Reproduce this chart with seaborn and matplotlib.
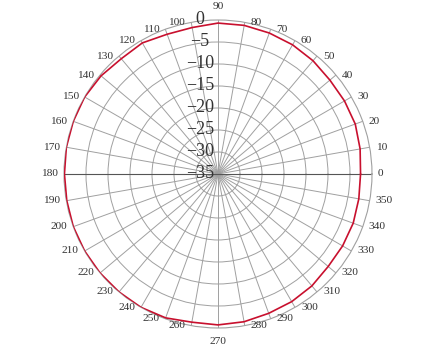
import numpy as np
import pandas as pd
import matplotlib
matplotlib.use("Agg")
import matplotlib.pyplot as plt
import matplotlib.transforms as mtransforms
import seaborn as sns

angles_deg = [0, 10, 20, 30, 40, 50, 60, 70, 80, 90, 100, 110, 120, 130, 140, 150, 160, 170,
              180, 190, 200, 210, 220, 230, 240, 250, 260, 270, 280, 290, 300, 310, 320, 330, 340, 350, 360]
gain_db = [-2.6, -2.2, -1.8, -1.8, -1.8, -1.4, -1.1, -0.9, -0.7, -0.7, -1.2, -1.2, -0.6, -0.8, -0.3, 0.0, 0.0, 0.0,
           -0.1, -0.1, 0.0, 0.0, 0.0, 0.0, 0.0, -0.2, -0.8, -0.7, -0.9, -1.3, -1.5, -1.8, -2.3, -2.3, -2.3, -2.5, -2.6]
r_ticks = [-35, -30, -25, -20, -15, -10, -5, 0]
theta_ticks = list(range(0, 360, 10))
theta_labels = [str(a) for a in theta_ticks]

sns.set_style("white")
plt.rcParams['font.family'] = ['Liberation Serif', 'DejaVu Serif']

df = pd.DataFrame({"theta": np.deg2rad(angles_deg), "r": gain_db})

fig = plt.figure(figsize=(4.33, 3.52), dpi=100)
ax = fig.add_axes([0.1478, 0.0682, 0.7113, 0.875], projection='polar')

sns.lineplot(data=df, x="theta", y="r", sort=False, ax=ax, color="#c8102e", linewidth=1.2, zorder=5)

ax.set_ylim(-35, 0)
ax.set_thetagrids(theta_ticks, labels=[""] * len(theta_ticks))
ax.set_rgrids(r_ticks[1:-1], labels=[""] * (len(r_ticks) - 2))
ax.grid(True, color="#a0a0a0", linewidth=0.7)
ax.spines['polar'].set_color("#a0a0a0")
ax.spines['polar'].set_linewidth(0.8)
ax.tick_params(axis='x', which='major', direction='out', length=4, width=0.7, color="#a0a0a0")
ax.set_xlabel("")
ax.set_ylabel("")

# darker horizontal axis
ax.plot([0, np.pi], [0, 0], color="#555555", linewidth=0.8, zorder=2)

# angular labels
for a, lab in zip(theta_ticks, theta_labels):
    c, s = np.cos(np.deg2rad(a)), np.sin(np.deg2rad(a))
    if abs(c) < 0.05:
        ha = 'center'
        va = 'bottom' if s > 0 else 'top'
        dx, dy = 0, (6.5 if s > 0 else -6.5)
    else:
        ha = 'left' if c > 0 else 'right'
        va = 'center'
        dx, dy = (4.3 if c > 0 else -4.3), 0
    tr = mtransforms.offset_copy(ax.transData, fig=fig, x=dx, y=dy, units='points')
    ax.text(np.deg2rad(a), 0, lab, transform=tr, ha=ha, va=va, fontsize=8.2, color="#333333",
            clip_on=False)

# radial labels
off = mtransforms.offset_copy(ax.transData, fig=fig, x=-13, y=0, units='points')
for rv in r_ticks:
    ax.text(np.pi / 2, rv, str(rv).replace("-", "\u2212"), transform=off, ha='center', va='center',
            fontsize=13, color="#333333", zorder=6)

fig.savefig("out.png", dpi=100)
